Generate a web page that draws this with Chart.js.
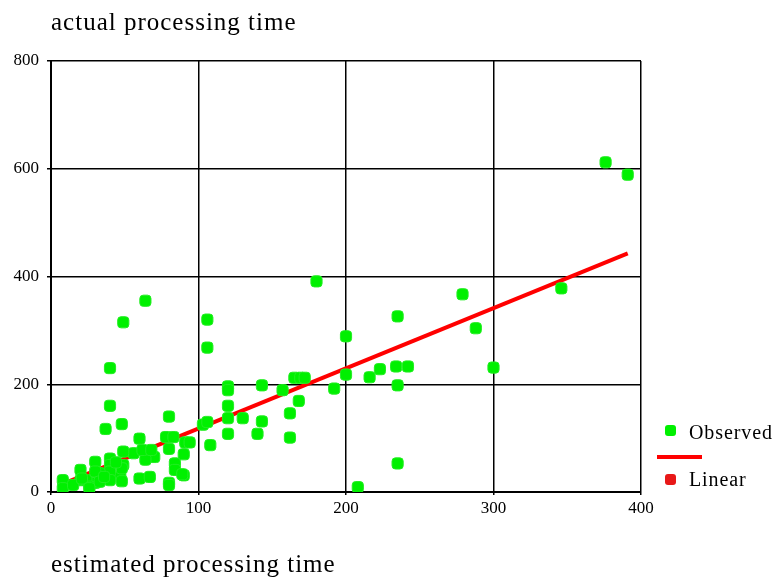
<!DOCTYPE html>
<html>
<head>
<meta charset="utf-8">
<script src="https://cdn.jsdelivr.net/npm/chart.js@4/dist/chart.umd.min.js"></script>
<style>
  html, body { margin: 0; padding: 0; background: #fff; }
  #wrap { position: relative; width: 777px; height: 581px; font-family: "Liberation Serif", serif; color: #000; }
  #chart { position: absolute; left: 0; top: 0; }
  .lbl { position: absolute; white-space: nowrap; }
  .sw { position: absolute; width: 11px; height: 11px; border-radius: 3px; }
</style>
</head>
<body>
<div id="wrap">
  <canvas id="chart" width="777" height="581"></canvas>
  <div class="lbl" style="left:51px; top:8px; font-size:25px; letter-spacing:1px;">actual processing time</div>
  <div class="lbl" style="left:51px; top:550px; font-size:25px; letter-spacing:1px;">estimated processing time</div>
  <!-- legend -->
  <div class="sw" style="left:665px; top:425px; background:#00f000;"></div>
  <div class="lbl" style="left:689px; top:421px; font-size:20px; letter-spacing:0.9px;">Observed</div>
  <div style="position:absolute; left:657px; top:455px; width:45px; height:4px; background:#ff0000;"></div>
  <div class="sw" style="left:665px; top:474px; background:#e81818;"></div>
  <div class="lbl" style="left:689px; top:468px; font-size:20px; letter-spacing:0.9px;">Linear</div>
</div>
<script>
// 數據：估計處理時間 vs 實際處理時間
const estimated = [376, 391, 180, 279, 346, 288, 300, 235, 200, 200, 216, 223, 234, 242, 235, 192,
  165, 169, 172, 157, 168, 162, 162, 143, 143, 140, 130, 120, 120, 120, 120, 120,
  106, 106, 103, 106, 108, 91, 94, 90, 90, 235, 208, 64, 49, 40, 40, 37, 48, 80,
  60, 78, 83, 80, 67, 70, 64, 56, 49, 49, 47, 40, 40, 40, 40, 30, 33, 30, 20, 20,
  24, 26, 8, 8, 15, 60, 67, 80, 84, 84, 89, 80, 62, 68, 48, 30, 21, 33, 26, 48, 36, 44];
const actual = [612, 589, 391, 367, 378, 304, 231, 326, 289, 218, 213, 228, 233, 233, 198, 192,
  212, 212, 212, 189, 169, 146, 101, 198, 131, 108, 137, 196, 189, 160, 137, 108,
  320, 268, 125, 130, 87, 92, 92, 70, 31, 53, 9, 355, 315, 230, 160, 117, 126, 140,
  99, 102, 102, 80, 75, 65, 60, 72, 75, 50, 28, 62, 50, 38, 22, 56, 35, 17, 41, 22,
  22, 10, 22, 7, 13, 25, 28, 17, 53, 41, 33, 13, 78, 78, 44, 38, 25, 19, 7, 20, 28, 55];
// 線性擬合端點
const fitX = [8, 391];
const fitY = [15, 443];
const xTicks = [0, 100, 200, 300, 400];
const yTicks = [0, 200, 400, 600, 800];

const TICK_FONT = { family: '"Liberation Serif", serif', size: 17 };

new Chart(document.getElementById('chart'), {
  type: 'scatter',
  data: {
    datasets: [{
      label: 'Observed',
      data: estimated.map((x, i) => ({ x, y: actual[i] })),
      backgroundColor: '#00f000',
      borderColor: '#22ee22',
      borderWidth: 1,
      pointStyle: 'rectRounded',
      pointRadius: 6.5,
      pointHoverRadius: 6.5
    }, {
      label: 'Linear',
      type: 'line',
      data: fitX.map((x, i) => ({ x, y: fitY[i] })),
      borderColor: '#ff0000',
      borderWidth: 4,
      pointRadius: 0,
      fill: false
    }]
  },
  options: {
    responsive: false,
    animation: false,
    layout: { padding: { left: 0, top: 61, right: 136, bottom: 0 } },
    plugins: { legend: { display: false }, tooltip: { enabled: false } },
    scales: {
      x: {
        type: 'linear', min: 0, max: 400,
        afterBuildTicks: (s) => { s.ticks = xTicks.map(v => ({ value: v })); },
        afterFit: (s) => { s.height = 89; },
        grid: { color: '#000', lineWidth: 1.5, tickLength: 3, tickColor: '#000' },
        border: { color: '#000', width: 2 },
        ticks: { color: '#000', font: TICK_FONT, padding: 3, maxRotation: 0 }
      },
      y: {
        type: 'linear', min: 0, max: 800,
        afterBuildTicks: (s) => { s.ticks = yTicks.map(v => ({ value: v })); },
        afterFit: (s) => { s.width = 51; },
        grid: { color: '#000', lineWidth: 1.5, tickLength: 4, tickColor: '#000' },
        border: { color: '#000', width: 2 },
        ticks: { color: '#000', font: TICK_FONT, padding: 8 }
      }
    }
  }
});
</script>
</body>
</html>
